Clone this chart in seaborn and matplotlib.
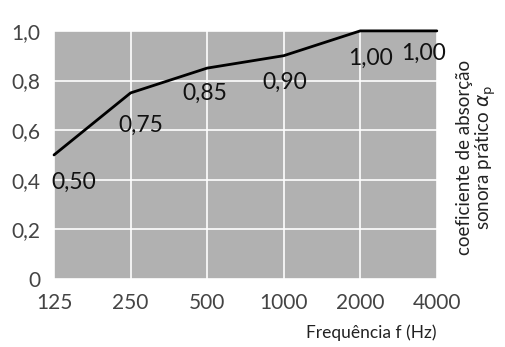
import matplotlib
matplotlib.use("Agg")
import matplotlib.pyplot as plt
import seaborn as sns
import pandas as pd
import numpy as np

freqs = [125, 250, 500, 1000, 2000, 4000]
alpha = [0.50, 0.75, 0.85, 0.90, 1.00, 1.00]
value_labels = ["0,50", "0,75", "0,85", "0,90", "1,00", "1,00"]
x_ticklabels = ["125", "250", "500", "1000", "2000", "4000"]
y_ticks = [0, 0.2, 0.4, 0.6, 0.8, 1.0]
y_ticklabels = ["0", "0,2", "0,4", "0,6", "0,8", "1,0"]

sns.set_theme(style="darkgrid")
plt.rcParams["font.family"] = ["Lato", "DejaVu Sans"]

df = pd.DataFrame({"f": freqs, "a": alpha})

fig = plt.figure(figsize=(5.05, 3.47), dpi=100)
ax = fig.add_axes([0.107, 0.196, 0.758, 0.715])
ax.set_facecolor("#b1b1b1")
fig.patch.set_facecolor("white")

ax.set_xscale("log", base=2)
sns.lineplot(data=df, x="f", y="a", ax=ax, color="black", linewidth=2)
for ln in ax.lines:
    ln.set_clip_on(False)

ax.set_xlim(125, 4000)
ax.set_ylim(0, 1.0)
ax.set_xticks(freqs)
ax.set_xticklabels(x_ticklabels)
ax.xaxis.set_minor_locator(matplotlib.ticker.NullLocator())
ax.set_yticks(y_ticks)
ax.set_yticklabels(y_ticklabels)
ax.set_ylabel("")
ax.grid(True, color="white", linewidth=1.2)
ax.tick_params(axis="both", length=0, labelsize=15, colors="#444444")
ax.tick_params(axis="x", pad=10)
ax.tick_params(axis="y", pad=10)
for s in ax.spines.values():
    s.set_visible(False)

offsets = [(-3, -17), (-12, -22), (-25, -15), (-21, -16), (-12, -17), (-36, -12)]
for f, a, lab, off in zip(freqs, alpha, value_labels, offsets):
    ax.annotate(lab, (f, a), xytext=off, textcoords="offset pixels",
                ha="left", va="top", fontsize=16.5, color="#111111",
                annotation_clip=False)

ax.set_xlabel("Frequência f (Hz)", fontsize=12.5, color="#222222")
ax.xaxis.set_label_coords(1.0, -0.185)
ax.xaxis.label.set_horizontalalignment("right")

fig.text(0.945, 0.545, "coeficiente de absorção\nsonora prático $\\alpha_{\\mathrm{p}}$",
         rotation=90, ha="center", va="center", fontsize=13.5, color="#222222",
         linespacing=1.0, multialignment="center")

fig.savefig("out.png", dpi=100)
